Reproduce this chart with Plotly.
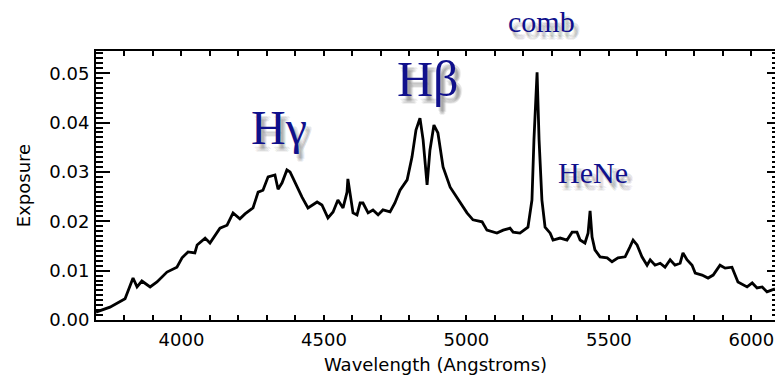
import plotly.graph_objects as go

# Spectrum: wavelength (Angstroms) and exposure
wavelength = [
    3700, 3749, 3802, 3830, 3844, 3861, 3890, 3914, 3949, 3984,
    4002, 4023, 4047, 4055, 4083, 4100, 4135, 4160, 4181, 4205,
    4223, 4251, 4269, 4286, 4304, 4328, 4339, 4353, 4370, 4381,
    4391, 4423, 4444, 4476, 4493, 4514, 4532, 4549, 4567, 4581,
    4584, 4595, 4602, 4616, 4627, 4637, 4655, 4672, 4690, 4707,
    4732, 4749, 4767, 4792, 4809, 4823, 4837, 4848, 4862, 4872,
    4886, 4900, 4918, 4943, 4971, 5002, 5023, 5055, 5072, 5107,
    5129, 5153, 5164, 5188, 5216, 5230, 5237, 5248, 5255, 5265,
    5276, 5294, 5304, 5329, 5353, 5371, 5388, 5399, 5416, 5427,
    5434, 5441, 5451, 5469, 5494, 5511, 5532, 5557, 5574, 5585,
    5599, 5616, 5634, 5645, 5662, 5680, 5697, 5715, 5732, 5750,
    5760, 5774, 5792, 5803, 5827, 5848, 5866, 5890, 5908, 5932,
    5953, 5985, 6003, 6020, 6038, 6055, 6073, 6083,
]
exposure = [
    0.0016, 0.0026, 0.0043, 0.0085, 0.0067, 0.0079, 0.0067, 0.0077, 0.0097, 0.0107,
    0.0126, 0.0138, 0.0136, 0.0152, 0.0166, 0.0156, 0.0186, 0.0192, 0.0217, 0.0205,
    0.0215, 0.0227, 0.0259, 0.0263, 0.0290, 0.0294, 0.0265, 0.0278, 0.0304, 0.0300,
    0.0288, 0.0249, 0.0227, 0.0239, 0.0233, 0.0207, 0.0219, 0.0243, 0.0227, 0.0259,
    0.0286, 0.0249, 0.0217, 0.0213, 0.0237, 0.0237, 0.0217, 0.0223, 0.0213, 0.0223,
    0.0219, 0.0237, 0.0263, 0.0284, 0.0330, 0.0385, 0.0409, 0.0365, 0.0274, 0.0344,
    0.0395, 0.0379, 0.0310, 0.0269, 0.0243, 0.0217, 0.0203, 0.0199, 0.0182, 0.0176,
    0.0182, 0.0186, 0.0178, 0.0176, 0.0188, 0.0243, 0.0365, 0.0502, 0.0365, 0.0243,
    0.0188, 0.0176, 0.0162, 0.0166, 0.0162, 0.0178, 0.0178, 0.0162, 0.0156, 0.0176,
    0.0221, 0.0168, 0.0142, 0.0128, 0.0126, 0.0118, 0.0126, 0.0128, 0.0148, 0.0162,
    0.0152, 0.0128, 0.0111, 0.0122, 0.0111, 0.0115, 0.0107, 0.0122, 0.0111, 0.0115,
    0.0136, 0.0122, 0.0111, 0.0095, 0.0091, 0.0085, 0.0091, 0.0111, 0.0105, 0.0107,
    0.0077, 0.0067, 0.0075, 0.0065, 0.0067, 0.0057, 0.0061, 0.0063,
]

# Line labels: text, wavelength position, height (fraction of plot height), font size
label_text = ["Hγ", "Hβ", "comb", "HeNe"]
label_wl = [4342, 4865, 5262, 5444]
label_pos = [0.714, 0.895, 1.108, 0.547]
label_size = [48, 50, 30, 30]

X_RANGE = [3700, 6083]
Y_RANGE = [0, 0.0545]
AXIS_FONT = dict(family="DejaVu Sans", size=18, color="black")
LABEL_COLOR = "#10108c"

fig = go.Figure()
fig.add_trace(go.Scatter(
    x=wavelength, y=exposure, mode="lines",
    line=dict(color="black", width=2.8),
    showlegend=False, hoverinfo="skip",
))
# anchor trace for the right-hand tick axis
fig.add_trace(go.Scatter(
    x=wavelength[:1], y=exposure[:1], yaxis="y2", mode="markers",
    marker=dict(opacity=0), showlegend=False, hoverinfo="skip",
))

# soft drop shadow under each label, then the label itself
shadow_offsets = [(3, -5), (5, -7), (4, -6), (2, -4), (6, -5), (4, -8), (3, -7), (5, -4)]
annotations = []
for t, xw, yp, s in zip(label_text, label_wl, label_pos, label_size):
    for dx, dy in shadow_offsets:
        annotations.append(dict(
            x=xw, y=yp, xref="x", yref="paper", xanchor="center", yanchor="middle",
            text=t, showarrow=False, xshift=dx, yshift=dy,
            font=dict(family="Liberation Serif", size=s, color="rgba(60,60,60,0.08)"),
        ))
    annotations.append(dict(
        x=xw, y=yp, xref="x", yref="paper", xanchor="center", yanchor="middle",
        text=t, showarrow=False,
        font=dict(family="Liberation Serif", size=s, color=LABEL_COLOR),
    ))

fig.update_layout(
    width=775, height=376,
    margin=dict(l=96, r=0, t=51, b=56),
    paper_bgcolor="white", plot_bgcolor="white",
    annotations=annotations,
    xaxis=dict(
        range=X_RANGE, showgrid=False, zeroline=False,
        showline=True, linecolor="black", linewidth=2, mirror="allticks",
        ticks="inside", ticklen=5, tickwidth=2, tickcolor="black",
        dtick=500, tickfont=AXIS_FONT, ticklabelstandoff=2,
        minor=dict(ticks="inside", ticklen=3, tickwidth=1.5, tickcolor="black", dtick=100),
        title=dict(text="Wavelength (Angstroms)", font=AXIS_FONT, standoff=10),
    ),
    yaxis=dict(
        range=Y_RANGE, showgrid=False, zeroline=False,
        showline=True, linecolor="black", linewidth=2, mirror=False,
        ticks="inside", ticklen=14, tickwidth=2, tickcolor="black",
        dtick=0.01, tickformat=".2f", tickfont=AXIS_FONT, ticklabelstandoff=1,
        minor=dict(ticks="inside", ticklen=7, tickwidth=1.5, tickcolor="black", dtick=0.001),
        title=dict(text="Exposure", font=AXIS_FONT, standoff=14),
    ),
    yaxis2=dict(
        range=Y_RANGE, overlaying="y", side="right", showgrid=False, zeroline=False,
        showline=False, showticklabels=False,
        ticks="inside", ticklen=8, tickwidth=2, tickcolor="black", dtick=0.01,
        minor=dict(ticks="inside", ticklen=3, tickwidth=1.5, tickcolor="black", dtick=0.001),
    ),
)

fig.write_html("out.html")
